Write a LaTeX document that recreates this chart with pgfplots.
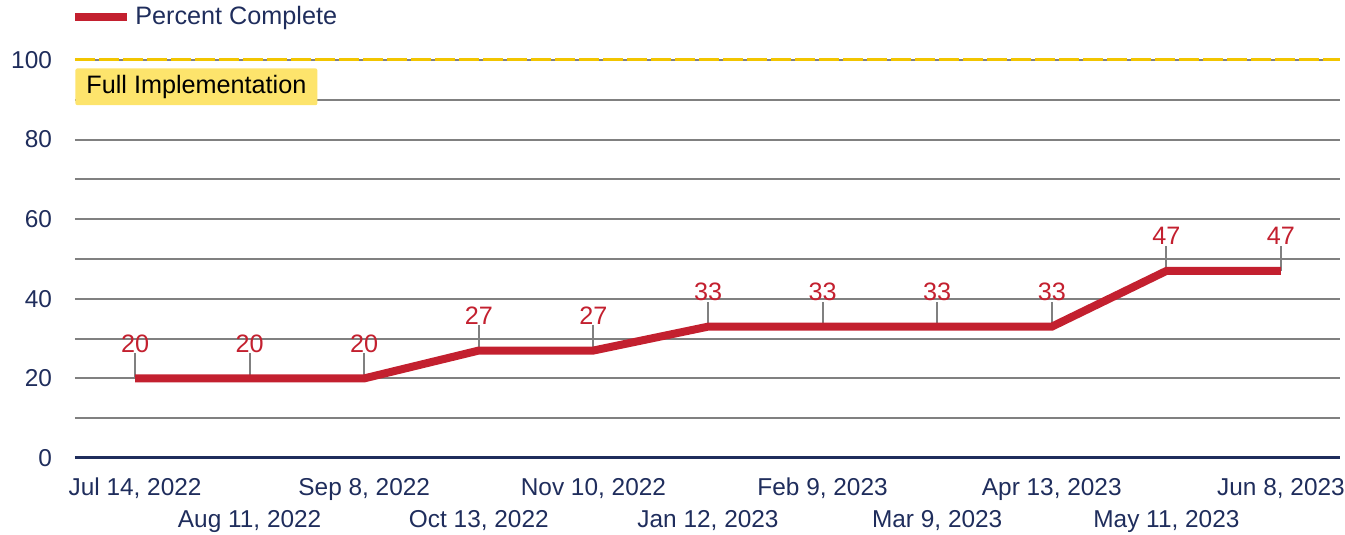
\documentclass[border=0pt]{standalone}
\usepackage{pgfplots}
\pgfplotsset{compat=1.18}
\usepackage{fontspec}
\setmainfont{Liberation Sans}
\definecolor{navy}{HTML}{1F2D5C}
\definecolor{pcred}{HTML}{C3202F}
\definecolor{hlyellow}{HTML}{FDE46C}
\definecolor{gold}{HTML}{F2C500}
\definecolor{gridgray}{HTML}{808080}
\begin{document}
\begin{tikzpicture}
\useasboundingbox (-37.5pt,-38.5pt) rectangle (635pt,229pt);
\begin{axis}[
  scale only axis, width=632.5pt, height=199pt,
  xmin=-0.524, xmax=10.515, ymin=0, ymax=100,
  ytick={0,20,...,100}, minor ytick={10,30,...,90},
  xtick={0,2,...,10},
  xticklabels={{Jul 14, 2022},{Sep 8, 2022},{Nov 10, 2022},{Feb 9, 2023},{Apr 13, 2023},{Jun 8, 2023}},
  extra x ticks={1,3,...,9},
  extra x tick labels={{Aug 11, 2022},{Oct 13, 2022},{Jan 12, 2023},{Mar 9, 2023},{May 11, 2023}},
  extra x tick style={xticklabel style={yshift=-16pt}, grid=none},
  grid=none, ymajorgrids, yminorgrids,
  major grid style={gridgray, line width=1pt},
  minor grid style={gridgray, line width=1pt},
  axis line style={draw=none},
  major tick length=0pt, minor tick length=0pt,
  tick label style={font=\fontsize{12.2}{14}\selectfont, text=navy},
  /pgf/number format/assume math mode=true,
  yticklabel style={xshift=-8pt},
  xticklabel style={yshift=-8pt, text height=0.72em, text depth=0.22em},
  legend style={draw=none, fill=none, inner sep=0pt, at={(0,1)}, anchor=west,
    yshift=21.5pt, xshift=-2pt, font=\fontsize{12.6}{14}\selectfont, text=navy},
  legend image code/.code={\draw[#1, line width=4pt] (0pt,0pt) -- (26pt,0pt);},
  clip=false,
]
% reference line at 100
\draw[gold, line width=1.5pt, dash pattern=on 10pt off 2pt] (axis cs:-0.524,100) -- (axis cs:10.515,100);
% x axis line
\draw[navy, line width=1.5pt] (axis cs:-0.524,0) -- (axis cs:10.515,0);
% gray ticks and value labels
\addplot[draw=none, mark=none, forget plot,
  error bars/.cd, y dir=plus, y fixed=6.3, error mark=none,
  error bar style={gridgray, line width=1pt}]
  coordinates {(0,20) (1,20) (2,20) (3,27) (4,27) (5,33) (6,33) (7,33) (8,33) (9,47) (10,47)};
\addplot[draw=none, mark=none, forget plot,
  nodes near coords,
  every node near coord/.append style={anchor=south, yshift=12.3pt, inner sep=0.5pt,
    text=pcred, font=\fontsize{12.6}{14}\selectfont}]
  coordinates {(0,20) (1,20) (2,20) (3,27) (4,27) (5,33) (6,33) (7,33) (8,33) (9,47) (10,47)};
% series
\addplot[pcred, line width=4pt, mark=none]
  coordinates {(0,20) (1,20) (2,20) (3,27) (4,27) (5,33) (6,33) (7,33) (8,33) (9,47) (10,47)};
\addlegendentry{Percent Complete}
\node[fill=hlyellow, rounded corners=1pt, anchor=north west, minimum height=15pt,
  minimum width=121pt, inner xsep=4.5pt, text=black, font=\fontsize{12.6}{14}\selectfont]
  at (rel axis cs:0,1) [yshift=-4pt] {Full Implementation};
\end{axis}
\end{tikzpicture}
\end{document}
